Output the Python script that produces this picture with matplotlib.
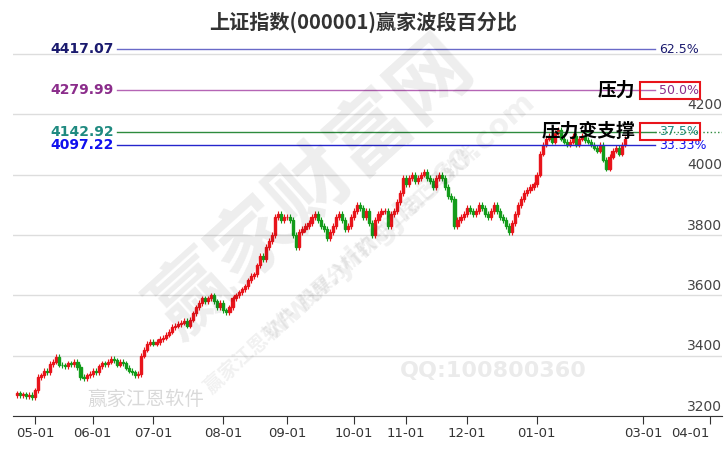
import numpy as np
import matplotlib.pyplot as plt
import matplotlib.transforms as mtrans
from matplotlib.patches import Rectangle

plt.rcParams['font.family'] = ['Noto Sans CJK SC', 'DejaVu Sans']
NARROW = ["Liberation Sans Narrow", "DejaVu Sans"]

# ---------------- data ----------------
TITLE = "上证指数(000001)赢家波段百分比"
MONTH_LABELS = ["05-01", "06-01", "07-01", "08-01", "09-01", "10-01",
                "11-01", "12-01", "01-01", "03-01", "04-01"]
# trading days per period: Apr tail, May..Mar
MONTH_DAYS = [6, 19, 20, 23, 21, 22, 17, 20, 23, 20, 15, 22]

close_apr = [3275, 3268, 3272, 3265, 3270, 3262]
close_may = [3285, 3330, 3335, 3350, 3345, 3372, 3380, 3395, 3370, 3368,
             3366, 3375, 3372, 3380, 3362, 3330, 3325, 3335, 3340]
close_jun = [3350, 3345, 3365, 3375, 3372, 3380, 3390, 3385, 3370, 3380,
             3375, 3360, 3350, 3345, 3335, 3340, 3400, 3420, 3440, 3445]
close_jul = [3440, 3445, 3455, 3460, 3470, 3480, 3495, 3500, 3505, 3510,
             3515, 3500, 3520, 3540, 3560, 3575, 3590, 3580, 3590, 3600,
             3580, 3560, 3575]
close_aug = [3550, 3545, 3560, 3590, 3600, 3610, 3620, 3630, 3650, 3665,
             3670, 3700, 3730, 3720, 3760, 3780, 3800, 3860, 3870, 3850, 3860]
close_sep = [3860, 3850, 3800, 3760, 3810, 3820, 3830, 3840, 3860, 3870,
             3850, 3830, 3820, 3790, 3810, 3830, 3860, 3870, 3850, 3820,
             3830, 3860]
close_oct = [3880, 3900, 3890, 3860, 3880, 3840, 3800, 3850, 3870, 3880,
             3880, 3830, 3870, 3880, 3910, 3940, 3990]
close_nov = [3970, 3990, 4000, 3980, 3990, 4000, 4010, 3990, 3980, 3960,
             3990, 4000, 3990, 3960, 3930, 3920, 3830, 3850, 3860, 3870]
close_dec = [3890, 3880, 3870, 3880, 3900, 3890, 3870, 3860, 3880, 3900,
             3880, 3860, 3850, 3830, 3810, 3840, 3870, 3900, 3920, 3940,
             3950, 3960, 3968]
close_jan = [4000, 4070, 4100, 4120, 4130, 4110, 4140, 4150, 4120, 4110,
             4100, 4110, 4130, 4100, 4120, 4130, 4115, 4110, 4100, 4090]
close_feb = [4080, 4100, 4050, 4020, 4060, 4080, 4090, 4070, 4100, 4120]

WICK = 9

LEVEL_VALUES = [4417.07, 4279.99, 4142.92, 4097.22]
LEVEL_PCTS = ["62.5%", "50.0%", "37.5%", "33.33%"]
LEVEL_TEXT_COLORS = ["#1a1a6e", "#8b2d8b", "#1f8a80", "#1010ee"]
LEVEL_LINE_COLORS = ["#6a6ac8", "#b565b5", "#2e8b3e", "#2525cc"]

Y_TICKS = [3200, 3400, 3600, 3800, 4000, 4200]
Y_GRID = [3200, 3400, 3600, 3800, 4000, 4200, 4400]

closes = np.array(close_apr + close_may + close_jun + close_jul + close_aug +
                  close_sep + close_oct + close_nov + close_dec + close_jan + close_feb, float)
opens = np.concatenate([[closes[0] - 5], closes[:-1]])
idx = np.arange(len(closes))

fig = plt.figure(figsize=(7.26, 4.5), dpi=100)
ax = fig.add_axes([13 / 726, 34 / 450, 709 / 726, 376 / 450])
ax.set_xlim(-1.2, 232)
ax.set_ylim(3200, 4447)

for g in Y_GRID:
    ax.axhline(g, color="#dddddd", lw=1, zorder=0)

# candles
for i, o, c in zip(idx, opens, closes):
    col = "#e8141b" if c >= o else "#139c1b"
    ax.vlines(i, min(o, c) - WICK, max(o, c) + WICK, color=col, lw=0.8, zorder=3)
    ax.add_patch(Rectangle((i - 0.35, min(o, c)), 0.7, max(abs(c - o), 1.5),
                           color=col, zorder=3))

# level lines
tr = mtrans.blended_transform_factory(ax.transAxes, ax.transData)
for v, p, tc, lc in zip(LEVEL_VALUES, LEVEL_PCTS, LEVEL_TEXT_COLORS, LEVEL_LINE_COLORS):
    ax.plot([104 / 709, 642 / 709], [v, v], color=lc, lw=1, transform=tr, zorder=4)
    ax.text(101 / 709, v, f"{v:.2f}", color=tc, fontsize=10, fontweight="bold",
            ha="right", va="center", transform=tr, family=NARROW)
    ax.text(646 / 709, v, p, color=tc, fontsize=9, ha="left", va="center",
            transform=tr, family=NARROW)
ax.plot([642 / 709, 1], [LEVEL_VALUES[2]] * 2, color="#2e8b3e", lw=1, ls=":",
        transform=tr, zorder=4)

for v in (LEVEL_VALUES[1], LEVEL_VALUES[2]):
    ax.add_patch(Rectangle((627 / 709, v - 28), 60 / 709, 56, transform=tr, fill=False,
                           ec="#e8141b", lw=1.5, zorder=5))
ax.text(622 / 709, LEVEL_VALUES[1], "压力", fontsize=13.5, fontweight="bold",
        ha="right", va="center", transform=tr, zorder=6)
ax.text(622 / 709, LEVEL_VALUES[2], "压力变支撑", fontsize=13.5, fontweight="bold",
        ha="right", va="center", transform=tr, zorder=6)

# y labels inside at right
for t in Y_TICKS:
    ax.text(1.0, t + 8, str(t), color="#444444", fontsize=10, ha="right", va="bottom",
            transform=tr, family=NARROW)
ax.set_yticks([])

# x ticks at month starts
starts = np.cumsum(MONTH_DAYS)
ticks = [s for k, s in enumerate(starts) if k != 9]  # Feb label skipped
ax.set_xticks(ticks)
ax.set_xticklabels(MONTH_LABELS, fontsize=9.5, color="#333333", family=NARROW)
ax.tick_params(axis="x", length=6, color="#333333", pad=2)
ax.get_xticklabels()[-1].set_horizontalalignment("right")
ax.get_xticklabels()[-1].set_x(ticks[-1] + 4.5)
for s in ["top", "right", "left"]:
    ax.spines[s].set_visible(False)
ax.spines["bottom"].set_color("#333333")

# watermarks
fig.text(0.43, 0.58, "赢家财富网", fontsize=58, color="#000000", alpha=0.07,
         rotation=42, ha="center", va="center", fontweight="bold")
fig.text(0.55, 0.52, "www.yingjia360.com", fontsize=22, color="#000000", alpha=0.06,
         rotation=42, ha="center", va="center", fontweight="bold", family=["DejaVu Sans"])
fig.text(0.47, 0.40, "赢家江恩软件  股票分析软件江恩工具软件", fontsize=14, color="#000000",
         alpha=0.06, rotation=42, ha="center", va="center", fontweight="bold")
fig.text(0.68, 0.175, "QQ:100800360", fontsize=16, color="#000000", alpha=0.08,
         ha="center", va="center", fontweight="bold", family=["DejaVu Sans"])
fig.text(0.12, 0.1, "赢家江恩软件", fontsize=14, color="#000000", alpha=0.15)

fig.text(0.5, 0.95, TITLE, fontsize=14.5, fontweight="bold", ha="center", va="center",
         color="#333333")

fig.savefig("out.png", dpi=100)
